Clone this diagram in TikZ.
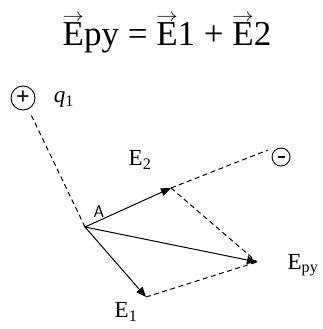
\RequirePackage{fix-cm}
\documentclass[tikz,border=0pt]{standalone}
\usepackage{amsmath}
\usepackage{graphicx}
\usepackage{fontspec}
\setmainfont{Liberation Serif}
\usetikzlibrary{arrows.meta}
\newcommand{\vE}{\leavevmode\setbox0\hbox{E}%
  \rlap{\raisebox{1.05\ht0}{\resizebox{\wd0}{0.3\ht0}{$\rightarrow$}}}E}

\begin{document}
\begin{tikzpicture}[x=1pt,y=-1pt,
  vec/.style={line width=1pt,-{Triangle[length=10pt,width=8pt]}},
  aux/.style={line width=1pt,dash pattern=on 5pt off 3.5pt},
  charge/.style={circle,draw,line width=0.9pt,inner sep=0pt},
  lbl/.style={font=\fontsize{23}{26}\selectfont}]
\useasboundingbox (0,0) rectangle (323,329);
% formula
\node (title) at (167,34) {\fontsize{35}{40}\selectfont
  \vE py = \vE 1 + \vE 2};
% charges
\node[charge,minimum size=24pt] (qp) at (23,98) {\fontsize{24}{24}\selectfont\bfseries +};
\node[lbl] (q1) at (64,100) {\textit{q}\textsubscript{1}};
\node[charge,minimum size=18pt] (qm) at (281,157) {\rule[-0.6pt]{7pt}{1.8pt}};
% points
\coordinate (A) at (85,227);
\coordinate (E1) at (146,297);
\coordinate (E2) at (171,188);
\coordinate (Epy) at (257,262);
\coordinate (m) at (268,150);
% dashed construction
\draw[aux,shorten >=7pt] (A) -- (qp);
\draw[aux] (E2) -- (m);
\draw[aux] (E2) -- (Epy);
\draw[aux] (E1) -- (Epy);
% field vectors
\draw[vec] (A) -- (E1);
\draw[vec] (A) -- (E2);
\draw[vec] (A) -- (Epy);
% labels
\node[font=\fontsize{17}{19}\selectfont\sffamily] (lA) at (99,212) {A};
\node[lbl] (l2) at (140,160) {E\textsubscript{2}};
\node[lbl] (l1) at (126,312) {E\textsubscript{1}};
\node[lbl] (lpy) at (303,265) {E\textsubscript{py}};
\end{tikzpicture}
\end{document}
